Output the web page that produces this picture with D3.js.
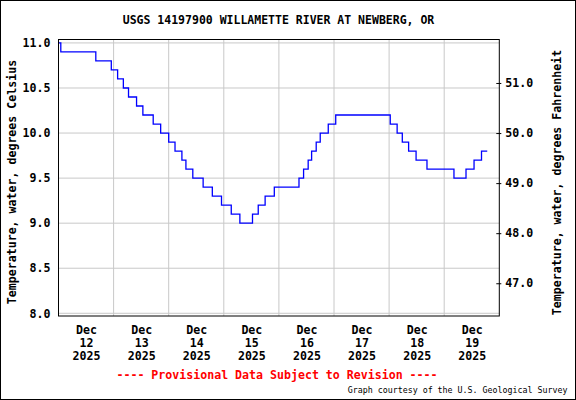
<!DOCTYPE html>
<html>
<head>
<meta charset="utf-8">
<script src="https://cdn.jsdelivr.net/npm/d3@7"></script>
<style>
  body { margin: 0; background: #fff; }
  text { font-family: "DejaVu Sans Mono", monospace; font-weight: bold; fill: #000; }
</style>
</head>
<body>
<svg id="chart" width="576" height="400"></svg>
<script>
// step readings: time of change and new value (deg C)
var times = [
  '2025-12-12T00:00', '2025-12-12T01:00', '2025-12-12T16:15', '2025-12-12T23:00',
  '2025-12-13T01:45', '2025-12-13T04:15', '2025-12-13T06:30', '2025-12-13T10:00',
  '2025-12-13T12:45', '2025-12-13T17:15', '2025-12-13T20:30', '2025-12-14T00:00',
  '2025-12-14T02:45', '2025-12-14T05:45', '2025-12-14T07:30', '2025-12-14T10:30',
  '2025-12-14T15:00', '2025-12-14T19:00', '2025-12-14T23:00', '2025-12-15T03:15',
  '2025-12-15T07:00', '2025-12-15T12:30', '2025-12-15T15:00', '2025-12-15T18:00',
  '2025-12-15T22:00', '2025-12-16T08:45', '2025-12-16T10:45', '2025-12-16T12:45',
  '2025-12-16T14:15', '2025-12-16T16:15', '2025-12-16T18:00', '2025-12-16T21:30',
  '2025-12-17T00:45', '2025-12-18T00:30', '2025-12-18T03:30', '2025-12-18T05:45',
  '2025-12-18T08:30', '2025-12-18T11:45', '2025-12-18T16:30', '2025-12-19T04:15',
  '2025-12-19T09:30', '2025-12-19T13:00', '2025-12-19T16:15', '2025-12-19T18:45'
];
var temps = [
  11.0, 10.9, 10.8, 10.7,
  10.6, 10.5, 10.4, 10.3,
  10.2, 10.1, 10.0, 9.9,
  9.8, 9.7, 9.6, 9.5,
  9.4, 9.3, 9.2, 9.1,
  9.0, 9.1, 9.2, 9.3,
  9.4, 9.5, 9.6, 9.7,
  9.8, 9.9, 10.0, 10.1,
  10.2, 10.1, 10.0, 9.9,
  9.8, 9.7, 9.6, 9.5,
  9.6, 9.7, 9.8, 9.8
];
var celsiusTicks = [8.0, 8.5, 9.0, 9.5, 10.0, 10.5, 11.0];
var fahrenheitTicks = [47, 48, 49, 50, 51];
var dayTicks = ['2025-12-12', '2025-12-13', '2025-12-14', '2025-12-15',
                '2025-12-16', '2025-12-17', '2025-12-18', '2025-12-19'];

var parse = d3.timeParse('%Y-%m-%dT%H:%M');
var parseDay = d3.timeParse('%Y-%m-%d');
var data = times.map(function(t, i) { return {t: parse(t), v: temps[i]}; });

var svg = d3.select('#chart');
var plot = {left: 58.5, right: 499.3, top: 39.5, bottom: 316};

var x = d3.scaleTime()
  .domain([parseDay('2025-12-12'), parseDay('2025-12-20')])
  .range([plot.left, plot.right]);
var cDomain = [7.97, 11.038];
var y = d3.scaleLinear().domain(cDomain).range([plot.bottom, plot.top]);
var yF = d3.scaleLinear()
  .domain(cDomain.map(function(c) { return c * 9 / 5 + 32; }))
  .range([plot.bottom, plot.top]);

// outer border
svg.append('rect')
  .attr('x', 0.5).attr('y', 0.5).attr('width', 575).attr('height', 399)
  .attr('fill', 'none').attr('stroke', '#000');

// grid
svg.append('g').selectAll('line')
  .data(celsiusTicks)
  .enter().append('line')
  .attr('x1', plot.left).attr('x2', plot.right)
  .attr('y1', function(d) { return y(d); })
  .attr('y2', function(d) { return y(d); })
  .attr('stroke', '#c8c8c8');

svg.append('g').selectAll('line')
  .data(dayTicks.slice(1))
  .enter().append('line')
  .attr('x1', function(d) { return x(parseDay(d)); })
  .attr('x2', function(d) { return x(parseDay(d)); })
  .attr('y1', plot.top).attr('y2', plot.bottom)
  .attr('stroke', '#c8c8c8');

// data line
svg.append('path')
  .datum(data)
  .attr('fill', 'none')
  .attr('stroke', '#0000ff')
  .attr('stroke-width', 1.3)
  .attr('d', d3.line()
    .curve(d3.curveStepAfter)
    .x(function(d) { return x(d.t); })
    .y(function(d) { return y(d.v); }));

// frame
svg.append('rect')
  .attr('x', plot.left).attr('y', plot.top)
  .attr('width', plot.right - plot.left).attr('height', plot.bottom - plot.top)
  .attr('fill', 'none').attr('stroke', '#000');

// left axis
var gl = svg.append('g')
  .attr('transform', 'translate(' + plot.left + ',0)')
  .call(d3.axisLeft(y).tickValues(celsiusTicks).tickSize(0).tickPadding(8)
    .tickFormat(d3.format('.1f')));
gl.select('.domain').remove();
gl.selectAll('text').attr('font-family', null).style('font-size', '11.6px');

// right axis
var gr = svg.append('g')
  .attr('transform', 'translate(' + plot.right + ',0)')
  .call(d3.axisRight(yF).tickValues(fahrenheitTicks).tickSize(2).tickPadding(4)
    .tickFormat(d3.format('.1f')));
gr.select('.domain').remove();
gr.selectAll('line').attr('x1', -3).attr('stroke', '#000');
gr.selectAll('text').attr('font-family', null).style('font-size', '11.6px');

// bottom axis, labels at noon
var noon = dayTicks.map(function(d) { return d3.timeHour.offset(parseDay(d), 12); });
var gb = svg.append('g')
  .attr('transform', 'translate(0,' + plot.bottom + ')')
  .call(d3.axisBottom(x).tickValues(noon).tickSize(0).tickFormat(''));
gb.select('.domain').remove();
gb.selectAll('.tick text')
  .attr('y', 0).attr('dy', null).attr('font-family', null)
  .style('font-size', '11.6px')
  .each(function(d) {
    var t = d3.select(this);
    var lines = [d3.timeFormat('%b')(d), d3.timeFormat('%d')(d), d3.timeFormat('%Y')(d)];
    lines.forEach(function(s, i) {
      t.append('tspan').attr('x', 0).attr('y', 18 + i * 13).text(s);
    });
  });

// titles
svg.append('text')
  .attr('x', 278.5).attr('y', 24)
  .attr('text-anchor', 'middle')
  .style('font-size', '11.5px')
  .text('USGS 14197900 WILLAMETTE RIVER AT NEWBERG, OR');

svg.append('text')
  .attr('transform', 'translate(15.5,182) rotate(-90)')
  .attr('text-anchor', 'middle')
  .style('font-size', '11.6px')
  .text('Temperature, water, degrees Celsius');

svg.append('text')
  .attr('transform', 'translate(560.5,182.5) rotate(-90)')
  .attr('text-anchor', 'middle')
  .style('font-size', '11.6px')
  .text('Temperature, water, degrees Fahrenheit');

svg.append('text')
  .attr('x', 277).attr('y', 379)
  .attr('text-anchor', 'middle')
  .style('font-size', '11.6px')
  .style('fill', '#ff0000')
  .text('---- Provisional Data Subject to Revision ----');

svg.append('text')
  .attr('x', 567.5).attr('y', 392.5)
  .attr('text-anchor', 'end')
  .style('font-size', '8.3px')
  .style('font-weight', 'normal')
  .text('Graph courtesy of the U.S. Geological Survey');
</script>
</body>
</html>
